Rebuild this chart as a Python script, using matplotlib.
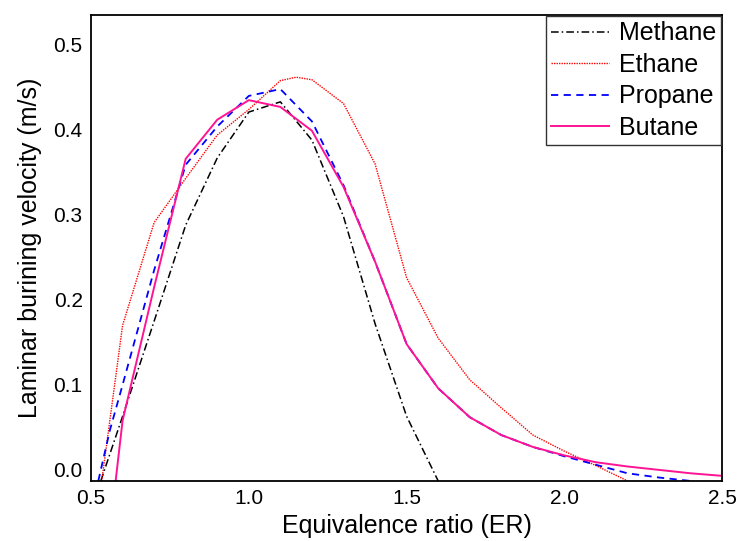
import matplotlib
matplotlib.use("Agg")
import matplotlib.pyplot as plt

plt.rcParams['font.family'] = ['Liberation Sans', 'DejaVu Sans']

# equivalence ratio / laminar burning velocity
methane_x = [0.531, 0.6, 0.7, 0.8, 0.9, 1.0, 1.1, 1.2, 1.3, 1.4, 1.5, 1.6]
methane_y = [-0.013, 0.063, 0.175, 0.288, 0.367, 0.421, 0.433, 0.388, 0.298, 0.172, 0.063, -0.013]

ethane_x = [0.534, 0.6, 0.7, 0.8, 0.9, 1.0, 1.1, 1.15, 1.2, 1.3, 1.4, 1.5, 1.6, 1.7, 1.8, 1.9, 2.0, 2.1, 2.2]
ethane_y = [-0.013, 0.170, 0.291, 0.343, 0.394, 0.424, 0.458, 0.462, 0.459, 0.431, 0.360, 0.226, 0.155,
            0.106, 0.073, 0.041, 0.022, 0.005, -0.013]

propane_x = [0.523, 0.56, 0.6, 0.7, 0.8, 0.9, 1.0, 1.1, 1.2, 1.3, 1.4, 1.5, 1.6, 1.7, 1.8, 1.9, 2.0,
             2.1, 2.2, 2.3, 2.4]
propane_y = [-0.013, 0.047, 0.100, 0.235, 0.359, 0.404, 0.440, 0.448, 0.410, 0.335, 0.245, 0.148, 0.096,
             0.062, 0.041, 0.027, 0.016, 0.006, -0.004, -0.009, -0.013]

butane_x = [0.578, 0.6, 0.7, 0.8, 0.9, 1.0, 1.1, 1.2, 1.3, 1.4, 1.5, 1.6, 1.7, 1.8, 1.9, 2.0, 2.1,
            2.2, 2.3, 2.4, 2.5]
butane_y = [-0.013, 0.058, 0.215, 0.366, 0.412, 0.435, 0.427, 0.399, 0.333, 0.245, 0.148, 0.096, 0.062,
            0.041, 0.027, 0.017, 0.009, 0.004, 0.000, -0.004, -0.007]

fig = plt.figure(figsize=(7.4, 5.41), dpi=100)
ax = fig.add_axes([0.123, 0.111, 0.853, 0.861])

ax.plot(methane_x, methane_y, color='black', lw=1.1, ls=(0, (5, 2, 1, 2)), label='Methane')
ax.plot(ethane_x, ethane_y, color='red', lw=1.0, ls=(0, (1, 0.8)), label='Ethane')
ax.plot(propane_x, propane_y, color='blue', lw=1.3, ls=(0, (4, 3)), label='Propane')
ax.plot(butane_x, butane_y, color='#ff1493', lw=1.4, ls='-', label='Butane')

ax.set_xlim(0.5, 2.5)
ax.set_ylim(-0.013, 0.535)
ax.set_xticks([0.5, 1.0, 1.5, 2.0, 2.5])
ax.set_xticklabels(['0.5', '1.0', '1.5', '2.0', '2.5'])
ax.set_yticks([0.0, 0.1, 0.2, 0.3, 0.4, 0.5])
ax.set_yticklabels(['0.0', '0.1', '0.2', '0.3', '0.4', '0.5'])
ax.tick_params(length=0, labelsize=15, pad=6)
for s in ax.spines.values():
    s.set_linewidth(1.3)

ax.set_xlabel('Equivalence ratio (ER)', fontsize=18, labelpad=4)
ax.set_ylabel('Laminar burining velocity (m/s)', fontsize=18, labelpad=8)

leg = ax.legend(loc='upper right', fontsize=18, frameon=True, fancybox=False,
                edgecolor='#333333', framealpha=1, handlelength=2.3, handletextpad=0.4,
                labelspacing=0.3, borderpad=0.2, borderaxespad=0.05)
leg.get_frame().set_linewidth(1.0)

fig.savefig('out.png', dpi=100)
